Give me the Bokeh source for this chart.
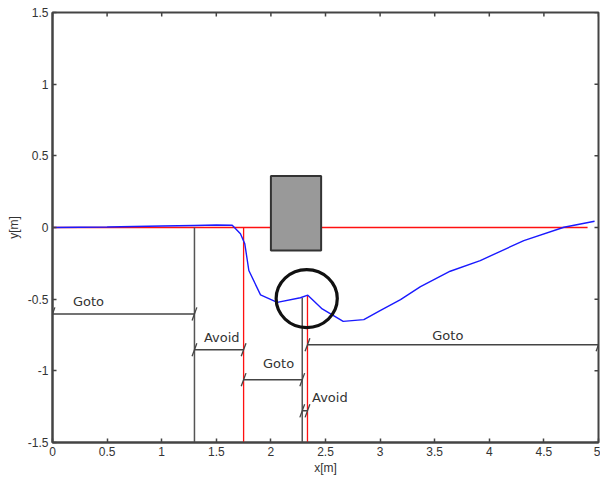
import numpy as np
from bokeh.plotting import figure
from bokeh.models import FixedTicker
from bokeh.core.properties import value
from bokeh.embed import file_html
from bokeh.resources import INLINE

# ---- data ----
x_ticks = [0, 0.5, 1, 1.5, 2, 2.5, 3, 3.5, 4, 4.5, 5]
x_tick_labels = ["0", "0.5", "1", "1.5", "2", "2.5", "3", "3.5", "4", "4.5", "5"]
y_ticks = [-1.5, -1, -0.5, 0, 0.5, 1, 1.5]
y_tick_labels = ["-1.5", "-1", "-0.5", "0", "0.5", "1", "1.5"]
x_min, x_max = 0, 5
y_min, y_max = -1.5, 1.5

# robot path (blue)
path_x = [0.0, 0.5, 1.0, 1.3, 1.5, 1.646, 1.721, 1.761, 1.798, 1.905, 2.058, 2.27, 2.338,
          2.47, 2.662, 2.851, 3.0, 3.187, 3.37, 3.642, 3.917, 4.316, 4.683, 4.964]
path_y = [0.0, 0.004, 0.01, 0.014, 0.017, 0.016, -0.044, -0.114, -0.30, -0.47, -0.522, -0.49, -0.472,
          -0.568, -0.655, -0.643, -0.58, -0.503, -0.412, -0.305, -0.231, -0.091, 0.002, 0.044]

# reference line (red, y = 0)
ref_x = [0.0, 4.9]
ref_y = [0.0, 0.0]

# obstacle
obs_left, obs_right, obs_bottom, obs_top = 2.0, 2.46, -0.16, 0.36

# highlighted region (circle)
circ_x, circ_y, circ_w, circ_h = 2.328, -0.496, 0.56, 0.405

# behaviour switch lines
switch_gray_x = [1.3, 2.287]
switch_gray_top = [0.0, -0.49]
switch_red_x = [1.75, 2.335]
switch_red_top = [0.0, -0.475]

# behaviour intervals
beh_names = ["Goto", "Avoid", "Goto", "Avoid", "Goto"]
beh_start = [0.0, 1.3, 1.75, 2.287, 2.335]
beh_end = [1.3, 1.75, 2.287, 2.335, 5.0]
beh_level = [-0.603, -0.853, -1.062, -1.279, -0.818]
beh_label_x = [0.33, 1.55, 2.07, 2.54, 3.62]
beh_label_y = [-0.517, -0.767, -0.946, -1.186, -0.755]

# ---- figure ----
p = figure(width=600, height=477, x_range=(x_min, x_max), y_range=(y_min, y_max),
           output_backend="svg", toolbar_location=None,
           min_border_left=52, min_border_right=2, min_border_top=12, min_border_bottom=35)
p.grid.visible = False
p.outline_line_color = "#444444"
p.outline_line_width = 2
p.background_fill_color = "white"
p.border_fill_color = "white"

FONT = "Liberation Sans"


def style_axis(ax, ticks, labels):
    ax.ticker = FixedTicker(ticks=ticks)
    ax.major_label_overrides = {t: l for t, l in zip(ticks, labels)}
    ax.major_tick_in = 4
    ax.major_tick_out = 0
    ax.minor_tick_in = 0
    ax.minor_tick_out = 0
    ax.axis_line_color = "#444444"
    ax.axis_line_width = 2
    ax.major_tick_line_color = "#444444"
    ax.major_tick_line_width = 1.5
    ax.major_label_text_font = FONT
    ax.major_label_text_font_size = "12px"
    ax.major_label_text_color = "#333333"
    ax.axis_label_text_font = FONT
    ax.axis_label_text_font_size = "12px"
    ax.axis_label_text_font_style = "normal"
    ax.axis_label_text_color = "#333333"


style_axis(p.xaxis[0], x_ticks, x_tick_labels)
style_axis(p.yaxis[0], y_ticks, y_tick_labels)
p.xaxis[0].axis_label = "x[m]"
p.yaxis[0].axis_label = "y[m]"
p.xaxis[0].major_label_standoff = 4
p.xaxis[0].axis_label_standoff = 2
p.yaxis[0].major_label_standoff = 4
p.yaxis[0].axis_label_standoff = 4

# inward ticks on top and right edges of the box
p.scatter(x=x_ticks, y=[y_max] * len(x_ticks), marker="dash", angle=np.pi / 2, size=8,
          line_color="#444444", line_width=1.5)
p.scatter(x=[x_max] * len(y_ticks), y=y_ticks, marker="dash", size=8,
          line_color="#444444", line_width=1.5)

RED = "#ff1010"

# reference line
p.line(ref_x, ref_y, line_color=RED, line_width=1.3)

# switch lines
p.segment(x0=switch_gray_x, y0=switch_gray_top, x1=switch_gray_x, y1=[y_min] * len(switch_gray_x),
          line_color="#555555", line_width=1.5)
p.segment(x0=switch_red_x, y0=switch_red_top, x1=switch_red_x, y1=[y_min] * len(switch_red_x),
          line_color=RED, line_width=1.3)

# obstacle
p.quad(left=[obs_left], right=[obs_right], bottom=[obs_bottom], top=[obs_top],
       fill_color="#999999", line_color="#333333", line_width=2)

# path
p.line(path_x, path_y, line_color="#1a1aff", line_width=1.4)

# circle highlight
p.ellipse(x=[circ_x], y=[circ_y], width=[circ_w], height=[circ_h],
          fill_color=None, line_color="#111111", line_width=3.2)

# behaviour intervals
p.segment(x0=beh_start, y0=beh_level, x1=beh_end, y1=beh_level,
          line_color="#444444", line_width=1.5)
end_x = beh_start + beh_end
end_y = beh_level + beh_level
p.scatter(x=end_x, y=end_y, marker="dash", size=14, angle=np.deg2rad(70),
          line_color="#444444", line_width=1.3)
p.text(x=beh_label_x, y=beh_label_y, text=beh_names,
       text_font=value("DejaVu Sans"), text_font_size="13px", text_color="#333333",
       text_align="center", text_baseline="middle")

open("out.html", "w").write(file_html(p, INLINE))
